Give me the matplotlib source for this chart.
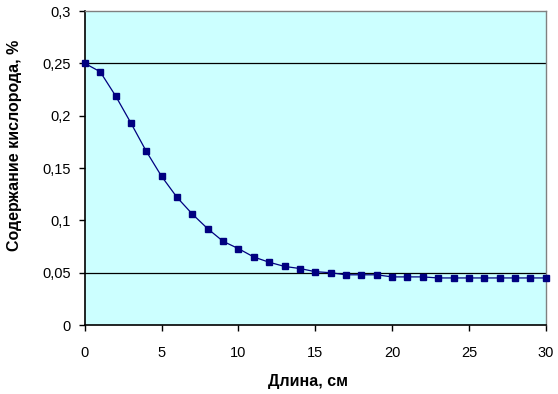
import matplotlib
matplotlib.use("Agg")
import matplotlib.pyplot as plt
from matplotlib.ticker import FuncFormatter

plt.rcParams['font.family'] = ['Liberation Sans', 'DejaVu Sans']

# длина, см
length = list(range(0, 31))
# содержание кислорода, %
oxygen = [0.250, 0.242, 0.219, 0.193, 0.166, 0.142, 0.122, 0.106, 0.092, 0.080,
          0.073, 0.065, 0.060, 0.056, 0.054, 0.051, 0.050, 0.048, 0.048, 0.048,
          0.046, 0.046, 0.046, 0.045, 0.045, 0.045, 0.045, 0.045, 0.045, 0.045,
          0.045]
yticks = [0, 0.05, 0.1, 0.15, 0.2, 0.25, 0.3]
xticks = [0, 5, 10, 15, 20, 25, 30]

fig = plt.figure(figsize=(5.58, 3.94), dpi=100)
ax = fig.add_axes([0.152, 0.175, 0.826, 0.797])
ax.set_facecolor('#ccffff')

ax.axhline(0.05, color='black', lw=0.9, zorder=1)
ax.axhline(0.25, color='black', lw=0.9, zorder=1)

ax.plot(length, oxygen, color='#000080', lw=0.9, marker='s', ms=5,
        mfc='#000080', mec='#000080', zorder=3, clip_on=False)

ax.set_xlim(0, 30)
ax.set_ylim(0, 0.3)
ax.set_xticks(xticks)
ax.set_yticks(yticks)
ax.yaxis.set_major_formatter(FuncFormatter(lambda v, p: ('%g' % v).replace('.', ',')))
ax.tick_params(direction='out', length=4, width=1, labelsize=10.5, colors='black')
ax.tick_params(axis='x', pad=11)
ax.tick_params(axis='y', pad=6)

for s in ['left', 'bottom']:
    ax.spines[s].set_color('black')
    ax.spines[s].set_linewidth(1.2)
for s in ['top', 'right']:
    ax.spines[s].set_color('#808080')
    ax.spines[s].set_linewidth(1.0)

ax.set_xlabel('Длина, см', fontsize=11.5, fontweight='bold')
ax.xaxis.set_label_coords(0.484, -0.155)
ax.set_ylabel('Содержание кислорода, %', fontsize=11.5, fontweight='bold')
ax.yaxis.set_label_coords(-0.137, 0.573)

fig.savefig('out.png', dpi=100)
